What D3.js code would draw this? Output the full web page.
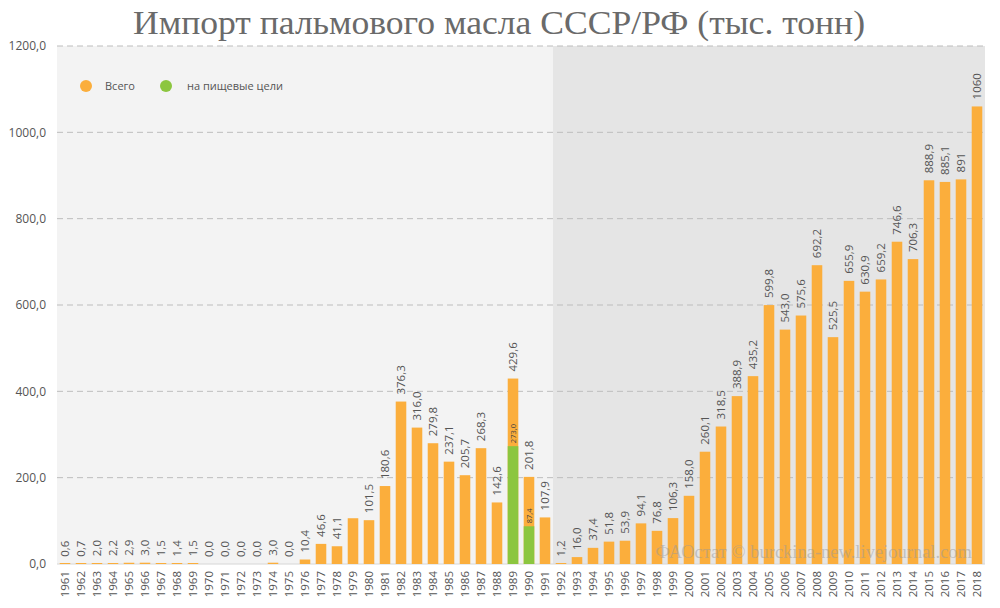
<!DOCTYPE html>
<html>
<head>
<meta charset="utf-8">
<script src="https://cdn.jsdelivr.net/npm/d3@7"></script>
<style>
  body { margin: 0; background: #fff; }
  svg { display: block; }
  .axis text { font-family: "Open Sans", "DejaVu Sans", sans-serif; fill: #555; }
</style>
</head>
<body>
<div id="chart"></div>
<script>
// years on the x axis
var years = d3.range(1961, 2019).map(String);
// total import, thousand tonnes
var total = [0.6, 0.7, 2.0, 2.2, 2.9, 3.0, 1.5, 1.4, 1.5, 0.0,
    0.0, 0.0, 0.0, 3.0, 0.0, 10.4, 46.6, 41.1, 106.0, 101.5,
    180.6, 376.3, 316.0, 279.8, 237.1, 205.7, 268.3, 142.6, 429.6, 201.8,
    107.9, 1.2, 16.0, 37.4, 51.8, 53.9, 94.1, 76.8, 106.3, 158.0,
    260.1, 318.5, 388.9, 435.2, 599.8, 543.0, 575.6, 692.2, 525.5, 655.9,
    630.9, 659.2, 746.6, 706.3, 888.9, 885.1, 891, 1060];
// printed labels (1979 has none in the original)
var totalLabels = ["0,6", "0,7", "2,0", "2,2", "2,9", "3,0", "1,5", "1,4", "1,5", "0,0",
    "0,0", "0,0", "0,0", "3,0", "0,0", "10,4", "46,6", "41,1", "", "101,5",
    "180,6", "376,3", "316,0", "279,8", "237,1", "205,7", "268,3", "142,6", "429,6", "201,8",
    "107,9", "1,2", "16,0", "37,4", "51,8", "53,9", "94,1", "76,8", "106,3", "158,0",
    "260,1", "318,5", "388,9", "435,2", "599,8", "543,0", "575,6", "692,2", "525,5", "655,9",
    "630,9", "659,2", "746,6", "706,3", "888,9", "885,1", "891", "1060"];
// food use part, only given for two years
var foodYears = ["1989", "1990"];
var food = [273.0, 87.4];
var yTicks = [0, 200, 400, 600, 800, 1000, 1200];
var seriesNames = ["Всего", "на пищевые цели"];
var splitYear = "1992"; // RF period starts here (darker panel)

var w = 1000, h = 608;
var margin = {top: 46, right: 15, bottom: 44, left: 57};
var orange = "#fbae3c", green = "#8cc63f";

var svg = d3.select("#chart").append("svg")
    .attr("width", w)
    .attr("height", h);

var x = d3.scaleBand()
    .domain(years)
    .range([margin.left, w - margin.right])
    .paddingInner(0.34)
    .paddingOuter(0.17);
var y = d3.scaleLinear()
    .domain([0, 1200])
    .range([h - margin.bottom, margin.top]);

// panels
var splitX = x(splitYear) - x.step() * x.paddingInner() / 2;
svg.append("rect")
    .attr("x", margin.left).attr("y", y(1200))
    .attr("width", splitX - margin.left).attr("height", y(0) - y(1200))
    .attr("fill", "#f3f3f3");
svg.append("rect")
    .attr("x", splitX).attr("y", y(1200))
    .attr("width", w - margin.right - splitX).attr("height", y(0) - y(1200))
    .attr("fill", "#e5e5e5");

// grid
svg.append("g").selectAll("line")
    .data(yTicks.slice(1))
    .enter().append("line")
    .attr("x1", margin.left).attr("x2", w - margin.right)
    .attr("y1", function (d) { return y(d); })
    .attr("y2", function (d) { return y(d); })
    .attr("stroke", "#bdbdbd")
    .attr("stroke-dasharray", "6,4");
svg.append("line")
    .attr("x1", margin.left).attr("x2", w - margin.right)
    .attr("y1", y(0)).attr("y2", y(0))
    .attr("stroke", "#d6d6d6");

// y axis
var fmt = function (d) { return d3.format(".1f")(d).replace(".", ","); };
svg.append("g")
    .attr("class", "axis")
    .attr("transform", "translate(" + (margin.left - 8) + ",0)")
    .call(d3.axisLeft(y).tickValues(yTicks).tickFormat(fmt).tickSize(0))
    .call(function (g) { g.select(".domain").remove(); })
    .selectAll("text").attr("font-size", 12);

// x axis
svg.append("g")
    .attr("class", "axis")
    .attr("transform", "translate(0," + (y(0) + 7) + ")")
    .call(d3.axisBottom(x).tickSize(0))
    .call(function (g) { g.select(".domain").remove(); })
    .selectAll("text")
    .attr("font-size", 11.5)
    .attr("text-anchor", "end")
    .attr("dy", "0.35em")
    .attr("transform", "rotate(-90)")
    .attr("x", 0).attr("y", 0);

// total bars
var rows = years.map(function (yr, i) { return {year: yr, v: total[i], label: totalLabels[i]}; });
svg.append("g").selectAll("rect")
    .data(rows)
    .enter().append("rect")
    .attr("x", function (d) { return x(d.year); })
    .attr("width", x.bandwidth())
    .attr("y", function (d) { return Math.min(y(d.v), y(0) - (d.v > 0 ? 1 : 0)); })
    .attr("height", function (d) { return d.v > 0 ? Math.max(1, y(0) - y(d.v)) : 0; })
    .attr("fill", orange);

// food bars
var foodRows = foodYears.map(function (yr, i) { return {year: yr, v: food[i]}; });
svg.append("g").selectAll("rect")
    .data(foodRows)
    .enter().append("rect")
    .attr("x", function (d) { return x(d.year); })
    .attr("width", x.bandwidth())
    .attr("y", function (d) { return y(d.v); })
    .attr("height", function (d) { return y(0) - y(d.v); })
    .attr("fill", green);

// value labels
svg.append("g").selectAll("text")
    .data(rows.filter(function (d) { return d.label; }))
    .enter().append("text")
    .attr("transform", function (d) {
        return "translate(" + (x(d.year) + x.bandwidth() / 2) + "," + (y(d.v) - 7) + ") rotate(-90)";
    })
    .attr("dy", "0.35em")
    .attr("font-family", "'Open Sans', 'DejaVu Sans', sans-serif")
    .attr("font-size", 11.5)
    .attr("fill", "#555")
    .text(function (d) { return d.label; });

svg.append("g").selectAll("text")
    .data(foodRows)
    .enter().append("text")
    .attr("transform", function (d) {
        return "translate(" + (x(d.year) + x.bandwidth() / 2) + "," + (y(d.v) - 3) + ") rotate(-90)";
    })
    .attr("dy", "0.35em")
    .attr("font-family", "'Open Sans', 'DejaVu Sans', sans-serif")
    .attr("font-size", 7.5)
    .attr("fill", "#444")
    .text(function (d) { return fmt(d.v); });

// legend
var legend = svg.append("g").selectAll("g")
    .data(seriesNames)
    .enter().append("g")
    .attr("transform", function (d, i) { return "translate(" + [86, 166][i] + ",86)"; });
legend.append("circle")
    .attr("r", 6)
    .attr("fill", function (d, i) { return i ? green : orange; });
legend.append("text")
    .attr("x", function (d, i) { return i ? 21 : 19; })
    .attr("dy", "0.35em")
    .attr("font-family", "'Open Sans', 'DejaVu Sans', sans-serif")
    .attr("font-size", 11)
    .attr("fill", "#555")
    .text(function (d) { return d; });

// title
svg.append("text")
    .attr("x", 499).attr("y", 34)
    .attr("text-anchor", "middle")
    .attr("font-family", "'Liberation Serif', 'DejaVu Serif', serif")
    .attr("font-size", 34)
    .attr("fill", "#6a6a6a")
    .attr("textLength", 732)
    .attr("lengthAdjust", "spacingAndGlyphs")
    .text("Импорт пальмового масла СССР/РФ (тыс. тонн)");

// watermark
svg.append("text")
    .attr("x", 972).attr("y", 558)
    .attr("text-anchor", "end")
    .attr("font-family", "'Liberation Serif', 'DejaVu Serif', serif")
    .attr("font-size", 18.5)
    .attr("fill", "#999")
    .attr("fill-opacity", 0.5)
    .text("ФАОстат © burckina-new.livejournal.com");
</script>
</body>
</html>
